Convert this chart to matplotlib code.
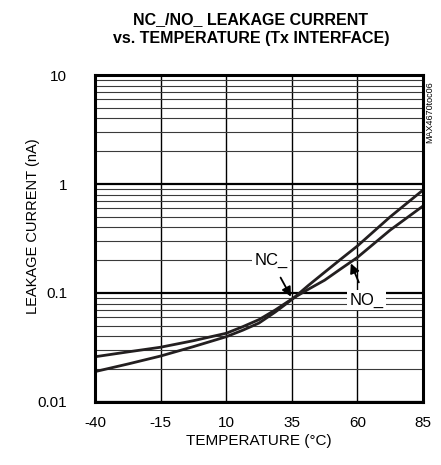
import numpy as np
import matplotlib.pyplot as plt
from matplotlib.ticker import FixedLocator, NullFormatter

# values
temp = [-40, -27.5, -15, -2.5, 10, 16.25, 22.5, 28.75, 35, 41.25, 47.5, 53.75, 60, 72.5, 85]
nc_leak = [0.0190, 0.0223, 0.0264, 0.0322, 0.0397, 0.0455, 0.0530, 0.0670, 0.0870,
           0.117, 0.155, 0.205, 0.270, 0.50, 0.88]
no_leak = [0.0260, 0.0288, 0.0318, 0.0365, 0.0427, 0.0490, 0.0570, 0.0700, 0.0880,
           0.108, 0.131, 0.167, 0.212, 0.378, 0.628]
x_ticks = [-40, -15, 10, 35, 60, 85]
y_ticks = [0.01, 0.1, 1, 10]
y_labels = ["0.01", "0.1", "1", "10"]

plt.rcParams['font.family'] = ['Liberation Sans', 'DejaVu Sans']
plt.rcParams['axes.unicode_minus'] = False

fig = plt.figure(figsize=(4.41, 4.65), dpi=100)
ax = fig.add_axes([0.2154, 0.1355, 0.7438, 0.7032])

ax.set_yscale('log')
ax.set_xlim(-40, 85)
ax.set_ylim(0.01, 10)

# grid: every minor decade line + vertical majors
ax.set_xticks(x_ticks)
ax.set_yticks(y_ticks)
ax.set_yticklabels(y_labels)
minors = [m * 10.0**d for d in range(-2, 1) for m in range(2, 10)]
ax.yaxis.set_minor_locator(FixedLocator(minors))
ax.yaxis.set_minor_formatter(NullFormatter())
ax.grid(True, which='major', axis='y', color='black', lw=1.6)
ax.grid(True, which='major', axis='x', color='black', lw=1.0)
ax.grid(True, which='minor', axis='y', color='#3a3a3a', lw=0.8)
ax.tick_params(which='both', length=0, labelsize=11)
ax.tick_params(axis='y', pad=20)
ax.tick_params(axis='x', pad=10)
for s in ax.spines.values():
    s.set_linewidth(2.2)

ax.plot(temp, nc_leak, color='#231f20', lw=2)
ax.plot(temp, no_leak, color='#231f20', lw=2)

# callouts
ax.annotate("NC_", xy=(34.7, 0.0925), xytext=(27.1, 0.20), fontsize=12,
            ha='center', va='center',
            bbox=dict(boxstyle='square,pad=0.15', fc='white', ec='none'),
            arrowprops=dict(arrowstyle='-|>', color='black', lw=1.3,
                            shrinkA=6, shrinkB=0, mutation_scale=14))
ax.annotate("NO_", xy=(57.5, 0.187), xytext=(63.4, 0.086), fontsize=12,
            ha='center', va='center',
            bbox=dict(boxstyle='square,pad=0.15', fc='white', ec='none'),
            arrowprops=dict(arrowstyle='-|>', color='black', lw=1.3,
                            shrinkA=6, shrinkB=0, mutation_scale=14))

ax.set_xlabel("TEMPERATURE (°C)", fontsize=11, labelpad=3)
ax.set_ylabel("LEAKAGE CURRENT (nA)", fontsize=10.5)
ax.yaxis.set_label_coords(-0.168, 0.537)

fig.text(0.569, 0.959, "NC_/NO_ LEAKAGE CURRENT", ha='center', va='center',
         fontsize=11.5, fontweight='bold')
fig.text(0.569, 0.918, "vs. TEMPERATURE (Tx INTERFACE)", ha='center', va='center',
         fontsize=11.5, fontweight='bold')
fig.text(0.975, 0.759, "MAX4670toc06", rotation=90, ha='center', va='center',
         fontsize=6.5)

fig.savefig("out.png", dpi=100)
